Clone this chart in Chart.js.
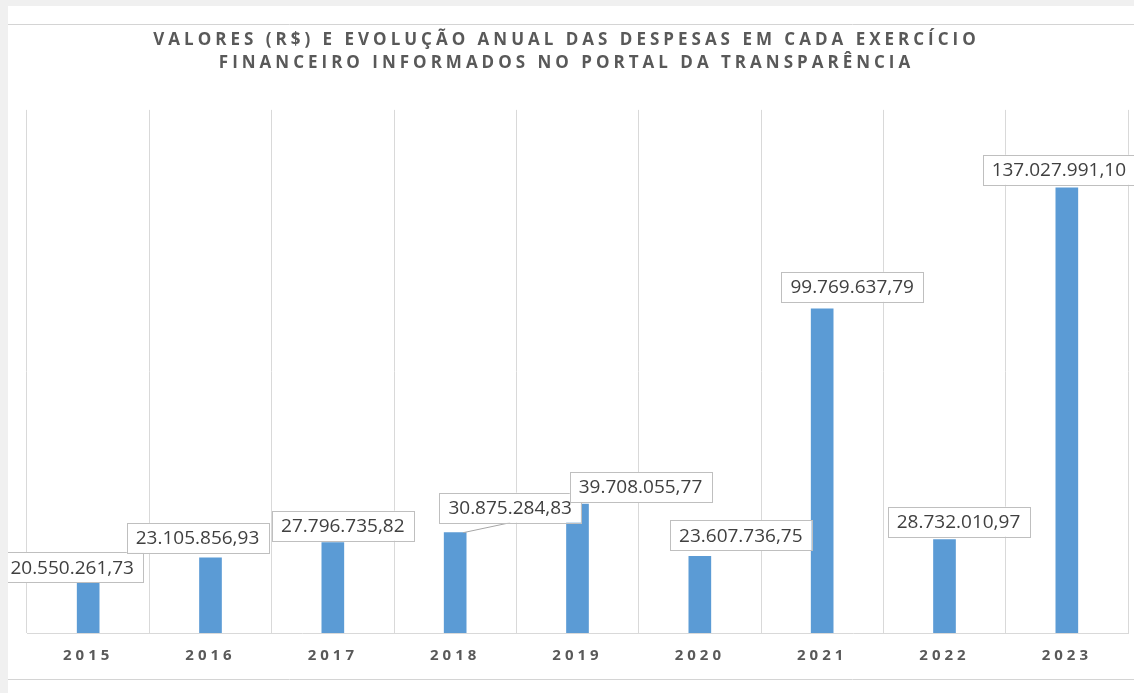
<!DOCTYPE html>
<html>
<head>
<meta charset="utf-8">
<script src="https://cdn.jsdelivr.net/npm/chart.js@4/dist/chart.umd.min.js"></script>
<style>
  html, body { margin: 0; padding: 0; background: #f0f0f0; }
  #panel { position: absolute; left: 8px; top: 6px; width: 1126px; height: 687px; background: #fff; }
  #chart { display: block; }
</style>
</head>
<body>
<div id="panel"><canvas id="chart" width="1126" height="687"></canvas></div>
<script>
// Dados
const anos = ['2015', '2016', '2017', '2018', '2019', '2020', '2021', '2022', '2023'];
const despesas = [20550261.73, 23105856.93, 27796735.82, 30875284.83, 39708055.77, 23607736.75, 99769637.79, 28732010.97, 137027991.10];
const tituloLinhas = [
    'VALORES (R$) E EVOLUÇÃO ANUAL DAS DESPESAS EM CADA EXERCÍCIO',
    'FINANCEIRO INFORMADOS NO PORTAL DA TRANSPARÊNCIA'
];

// posição das caixas de rótulo em relação ao topo da barra (ajuste manual, como no Excel)
const rotuloDx = [-16, -13, 10, 55, 63, 41, 30, 14, -8];
const rotuloGap = [-16, 5, 2, 10, 2, 6, 7, 3, 3];

function formatBR(v) {
    return v.toLocaleString('pt-BR', { minimumFractionDigits: 2, maximumFractionDigits: 2 });
}

// linhas horizontais do quadro, título deslocado e espaçamento de letras
const framePlugin = {
    id: 'frame',
    afterLayout(chart) {
        if (chart.titleBlock) {
            chart.titleBlock.left -= 11;
            chart.titleBlock.right -= 11;
        }
    },
    beforeDraw(chart) {
        const ctx = chart.ctx;
        ctx.save();
        ctx.strokeStyle = '#d4d4d4';
        ctx.lineWidth = 1;
        ctx.beginPath();
        ctx.moveTo(0, 18.5);
        ctx.lineTo(chart.width, 18.5);
        ctx.moveTo(0, 673.5);
        ctx.lineTo(chart.width, 673.5);
        ctx.stroke();
        ctx.restore();
        ctx.letterSpacing = '4px';
    },
    beforeDatasetsDraw(chart) {
        chart.ctx.letterSpacing = '0px';
    }
};

// rótulos de dados em caixas
const labelBoxes = {
    id: 'labelBoxes',
    afterDatasetsDraw(chart) {
        const ctx = chart.ctx;
        const meta = chart.getDatasetMeta(0);
        ctx.save();
        ctx.letterSpacing = '0px';
        ctx.font = '19px "Open Sans"';
        ctx.textAlign = 'center';
        ctx.textBaseline = 'middle';
        meta.data.forEach((bar, i) => {
            const txt = formatBR(despesas[i]);
            const w = ctx.measureText(txt).width + 18;
            const h = 30;
            const cx = bar.x + rotuloDx[i];
            const bottom = bar.y - rotuloGap[i];
            const top = bottom - h;
            if (rotuloGap[i] > 6 && Math.abs(rotuloDx[i]) > 40) {
                ctx.strokeStyle = '#a6a6a6';
                ctx.lineWidth = 1;
                ctx.beginPath();
                ctx.moveTo(bar.x + 8, bar.y);
                ctx.lineTo(cx, bottom);
                ctx.stroke();
            }
            ctx.fillStyle = '#ffffff';
            ctx.fillRect(cx - w / 2, top, w, h);
            ctx.strokeStyle = '#bfbfbf';
            ctx.lineWidth = 1;
            ctx.strokeRect(Math.round(cx - w / 2) + 0.5, Math.round(top) + 0.5, Math.round(w), h);
            ctx.fillStyle = '#404040';
            ctx.fillText(txt, cx, top + h / 2 + 1);
        });
        ctx.restore();
    }
};

const ctx = document.getElementById('chart').getContext('2d');
new Chart(ctx, {
    type: 'bar',
    data: {
        labels: anos,
        datasets: [{
            data: despesas,
            backgroundColor: '#5b9bd5',
            barThickness: 22
        }]
    },
    options: {
        responsive: false,
        animation: false,
        layout: {
            padding: { left: 19, right: 6, top: 0, bottom: 14 }
        },
        plugins: {
            legend: { display: false },
            tooltip: { enabled: false },
            title: {
                display: true,
                text: tituloLinhas,
                color: '#595959',
                font: { family: '"Open Sans"', size: 17, weight: 'bold', lineHeight: 1.35 },
                padding: { top: 23, bottom: 35 }
            }
        },
        scales: {
            x: {
                grid: { offset: true, color: '#d9d9d9', drawTicks: false },
                border: { color: '#d9d9d9' },
                ticks: {
                    color: '#595959',
                    padding: 14,
                    font: { family: '"Open Sans"', size: 15, weight: 'bold' }
                }
            },
            y: {
                display: false,
                min: 0,
                max: 161000000
            }
        }
    },
    plugins: [framePlugin, labelBoxes]
});
</script>
</body>
</html>
